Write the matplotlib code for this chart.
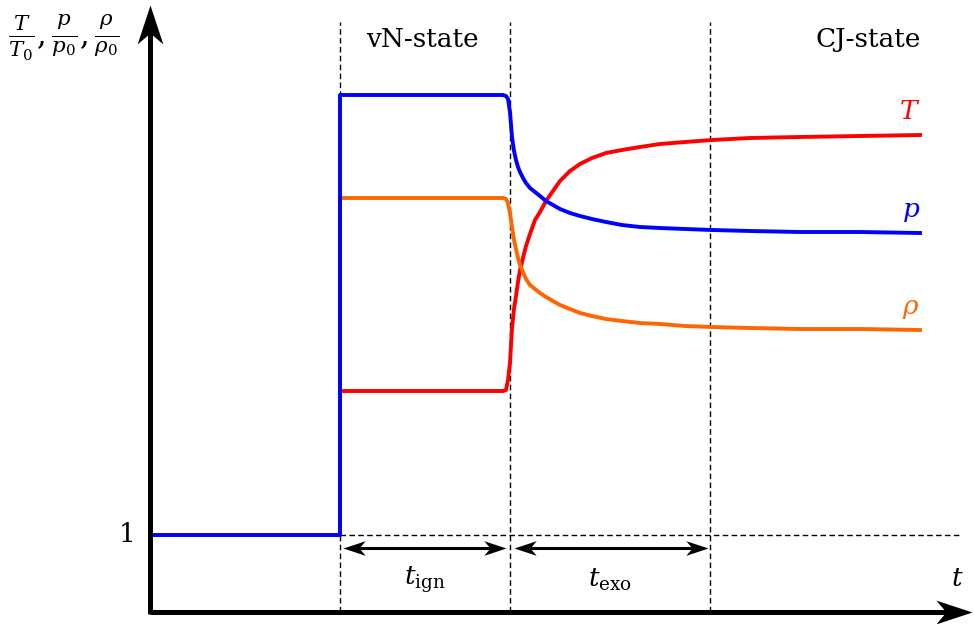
import matplotlib
matplotlib.use("Agg")
import matplotlib.pyplot as plt
from matplotlib.path import Path
from matplotlib.markers import MarkerStyle
from matplotlib.transforms import Affine2D

plt.rcParams["font.family"] = "DejaVu Serif"
plt.rcParams["mathtext.fontset"] = "dejavuserif"

# time axis (arbitrary units): shock at 1.9, end of induction 3.6, end of heat release 5.6
t_shock = 1.9
t_ign_end = 3.6
t_exo_end = 5.6

t = [0.0, 1.9, 1.9,
     3.53, 3.56, 3.58, 3.60, 3.62, 3.64, 3.66, 3.68, 3.70, 3.73, 3.76, 3.80, 3.85,
     3.90, 3.96, 4.03, 4.10, 4.20, 4.30, 4.42, 4.56, 4.72, 4.90, 5.10, 5.35, 5.62,
     6.00, 6.50, 7.10, 7.70]

# normalised state variables (pre-shock state = 1)
T_ratio = [1.0, 1.0, 2.44,
           2.44, 2.45, 2.55, 2.72, 3.07, 3.26, 3.39, 3.53, 3.65, 3.77, 3.89, 4.01, 4.15,
           4.23, 4.34, 4.44, 4.54, 4.64, 4.71, 4.77, 4.82, 4.85, 4.88, 4.91, 4.93, 4.95,
           4.97, 4.98, 4.99, 5.00]
p_ratio = [1.0, 1.0, 5.40,
           5.40, 5.39, 5.36, 5.23, 4.98, 4.84, 4.75, 4.68, 4.63, 4.57, 4.52, 4.47, 4.43,
           4.39, 4.34, 4.30, 4.26, 4.22, 4.19, 4.16, 4.13, 4.10, 4.08, 4.07, 4.06, 4.05,
           4.04, 4.03, 4.03, 4.02]
rho_ratio = [1.0, 1.0, 4.37,
             4.37, 4.36, 4.32, 4.22, 4.08, 3.95, 3.86, 3.77, 3.70, 3.63, 3.56, 3.50, 3.46,
             3.42, 3.38, 3.34, 3.30, 3.26, 3.22, 3.19, 3.16, 3.14, 3.12, 3.11, 3.09, 3.08,
             3.07, 3.06, 3.06, 3.05]

RED = "#ff0000"
BLUE = "#0000ff"
ORANGE = "#ff6600"


def stealth(angle):
    # arrow head with a notched back, tip at the marker origin
    verts = [(0, 0), (-1, 0.33), (-0.72, 0), (-1, -0.33), (0, 0)]
    codes = [Path.MOVETO, Path.LINETO, Path.LINETO, Path.LINETO, Path.CLOSEPOLY]
    path = Path(verts, codes).transformed(Affine2D().rotate_deg(angle))
    return MarkerStyle(path)


fig = plt.figure(figsize=(9.74, 6.24), dpi=100)
ax = fig.add_axes([0, 0, 1, 1])
ax.set_xlim(-1.5, 8.24)
ax.set_ylim(0.11, 6.35)
ax.axis("off")

y_axis = 0.23
dash = (0, (4, 2.4))

# guide lines
for tv in [t_shock, t_ign_end, t_exo_end]:
    ax.plot([tv, tv], [y_axis, 6.13], color="k", lw=1.0, ls=dash, zorder=1)
ax.plot([t_shock, 8.12], [1, 1], color="k", lw=1.0, ls=dash, zorder=1)

# profiles
ax.plot(t, T_ratio, color=RED, lw=2.8, solid_joinstyle="round", zorder=3)
ax.plot(t, rho_ratio, color=ORANGE, lw=2.8, solid_joinstyle="round", zorder=3)
ax.plot(t, p_ratio, color=BLUE, lw=2.8, solid_joinstyle="round", zorder=4)

ax.text(t[-1], T_ratio[-1] + 0.16, "$T$", color=RED, fontsize=19, ha="right", va="baseline")
ax.text(t[-1], p_ratio[-1] + 0.16, "$p$", color=BLUE, fontsize=19, ha="right", va="baseline")
ax.text(t[-1], rho_ratio[-1] + 0.16, r"$\rho$", color=ORANGE, fontsize=19, ha="right", va="baseline")

# axes with arrow heads
ax.plot([0, 8.0], [y_axis, y_axis], color="k", lw=3.6, solid_capstyle="butt", zorder=5)
ax.plot([0, 0], [y_axis - 0.02, 6.1], color="k", lw=3.6, solid_capstyle="butt", zorder=5)
ax.plot([8.22], [y_axis], marker=stealth(0), ms=52, color="k", mew=0, zorder=6, clip_on=False)
ax.plot([0], [6.30], marker=stealth(90), ms=56, color="k", mew=0, zorder=6, clip_on=False)

# interval arrows
y_arr = 0.87
for a, b in [(t_shock + 0.03, t_ign_end - 0.04), (t_ign_end + 0.04, t_exo_end - 0.02)]:
    ax.plot([a + 0.1, b - 0.1], [y_arr, y_arr], color="k", lw=2.2, zorder=5)
    ax.plot([b], [y_arr], marker=stealth(0), ms=32, color="k", mew=0, zorder=6)
    ax.plot([a], [y_arr], marker=stealth(180), ms=32, color="k", mew=0, zorder=6)

ax.text(2.75, 0.55, r"$t_{\mathrm{ign}}$", fontsize=19, ha="center", va="center")
ax.text(4.6, 0.55, r"$t_{\mathrm{exo}}$", fontsize=19, ha="center", va="center")
ax.text(8.07, 0.57, "$t$", fontsize=19, ha="center", va="center")
ax.text(-0.23, 1.0, "1", fontsize=19, ha="center", va="center")

ax.text(2.72, 5.95, "vN-state", fontsize=19, ha="center", va="center")
ax.text(7.18, 5.95, "CJ-state", fontsize=19, ha="center", va="center")
ax.text(-0.86, 5.97, r"$\frac{T}{T_0}, \frac{p}{p_0}, \frac{\rho}{\rho_0}$",
        fontsize=22, ha="center", va="center")

fig.savefig("out.png", dpi=100)
